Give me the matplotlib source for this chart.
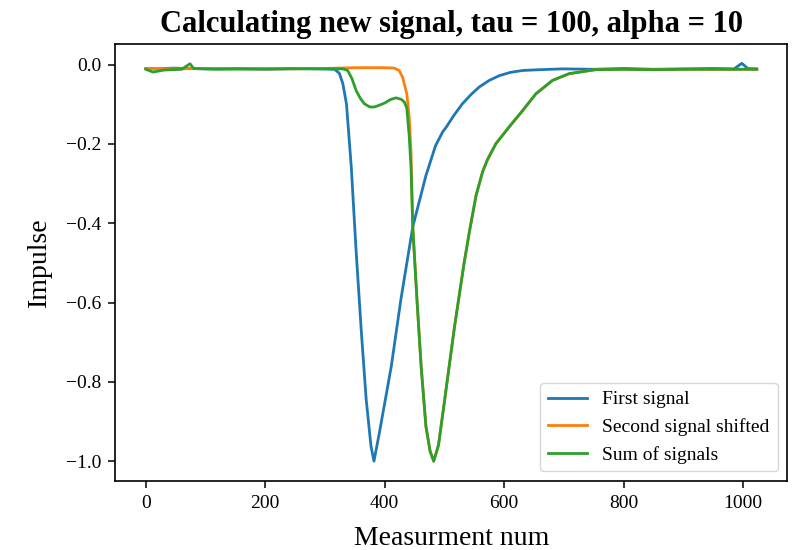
import matplotlib
matplotlib.use("Agg")
import matplotlib.pyplot as plt

plt.rcParams['font.family'] = ['Liberation Serif', 'DejaVu Serif']
plt.rcParams['mathtext.fontset'] = 'stix'

# ---- data ----
first_x = [0, 20, 45, 70, 100, 150, 200, 250, 300, 316, 324, 330, 336, 344, 352, 361,
           369, 377, 382, 391, 411, 427, 447, 469, 485, 497, 503, 515, 530, 545, 558,
           575, 592, 610, 631, 660, 697, 750, 800, 850, 900, 950, 985, 998, 1008, 1023]
first_y = [-0.010, -0.011, -0.009, -0.010, -0.011, -0.010, -0.012, -0.010, -0.011, -0.012,
           -0.022, -0.049, -0.100, -0.258, -0.468, -0.677, -0.845, -0.962, -1.000, -0.929,
           -0.761, -0.593, -0.409, -0.280, -0.205, -0.170, -0.158, -0.130, -0.099, -0.075,
           -0.057, -0.040, -0.028, -0.020, -0.015, -0.013, -0.011, -0.012, -0.010, -0.012,
           -0.011, -0.010, -0.011, 0.003, -0.010, -0.011]

sum_x = [0, 12, 30, 60, 74, 80, 120, 200, 280, 330, 338, 345, 352, 359, 366, 375, 383,
         392, 400, 410, 419, 428, 433, 437, 441, 444, 447, 454, 461, 469, 476, 482,
         490, 500, 508, 517, 525, 533, 542, 553, 564, 572, 586, 608, 631, 653, 681,
         709, 753, 800, 850, 900, 950, 1000, 1023]
sum_y = [-0.012, -0.019, -0.014, -0.012, 0.002, -0.010, -0.012, -0.011, -0.011, -0.011,
         -0.015, -0.035, -0.065, -0.085, -0.099, -0.107, -0.107, -0.102, -0.097, -0.088,
         -0.084, -0.088, -0.095, -0.110, -0.180, -0.258, -0.410, -0.593, -0.761, -0.912,
         -0.975, -1.000, -0.960, -0.850, -0.760, -0.660, -0.580, -0.500, -0.420, -0.330,
         -0.270, -0.240, -0.200, -0.158, -0.116, -0.074, -0.040, -0.023, -0.013, -0.012,
         -0.013, -0.012, -0.012, -0.012, -0.012]

shift_head_x = [0, 50, 100, 200, 300, 350, 400, 416, 424, 430, 437, 441, 444]
shift_head_y = [-0.010, -0.011, -0.010, -0.011, -0.010, -0.008, -0.008, -0.009, -0.015,
                -0.032, -0.074, -0.132, -0.220]
tail_start = sum_x.index(447)
shift_x = shift_head_x + sum_x[tail_start:]
shift_y = shift_head_y + sum_y[tail_start:]

labels = ["First signal", "Second signal shifted", "Sum of signals"]
colors = ["#1f77b4", "#ff7f0e", "#2ca02c"]
xticks = [0, 200, 400, 600, 800, 1000]
yticks = [0.0, -0.2, -0.4, -0.6, -0.8, -1.0]

W, H = 799, 550
fig = plt.figure(figsize=(W / 100, H / 100), dpi=100)
ax = fig.add_axes([115.3 / W, 1 - 481 / H, 672 / W, 437.5 / H])

ax.plot(first_x, first_y, color=colors[0], lw=2.0, label=labels[0])
ax.plot(shift_x, shift_y, color=colors[1], lw=2.0, label=labels[1])
ax.plot(sum_x, sum_y, color=colors[2], lw=2.0, label=labels[2])

ax.set_xlim(-51.15, 1074.15)
ax.set_ylim(-1.05, 0.053)
ax.set_xticks(xticks)
ax.set_yticks(yticks)
ax.set_yticklabels([f"{v:.1f}".replace("-", "\u2212") for v in yticks])
ax.tick_params(labelsize=14, length=5, width=1.1, pad=5)
for s in ax.spines.values():
    s.set_linewidth(1.2)

ax.set_title("Calculating new signal, tau = 100, alpha = 10", fontsize=22,
             fontweight="bold", pad=8)
ax.set_xlabel("Measurment num", fontsize=20, labelpad=10)
ax.set_ylabel("Impulse", fontsize=20, labelpad=10)
ax.legend(loc="lower right", fontsize=14)

fig.savefig("out.png", dpi=100)
